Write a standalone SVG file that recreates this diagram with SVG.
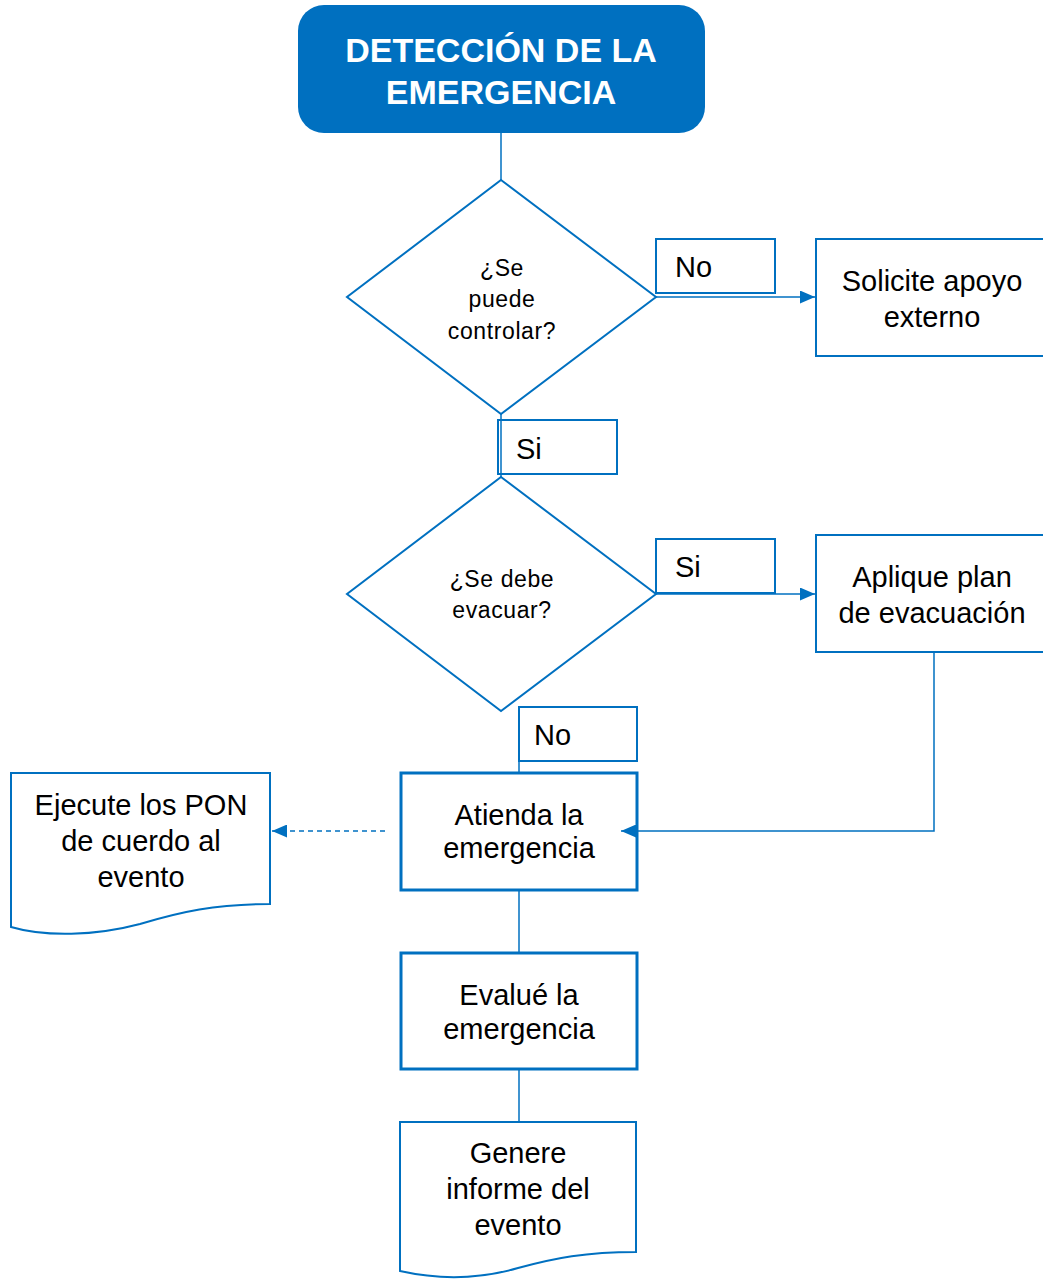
<svg xmlns="http://www.w3.org/2000/svg" width="1043" height="1279" viewBox="0 0 1043 1279">
<defs>
<style>
.box{fill:#fff;stroke:#0070C0;stroke-width:2}
.thick{fill:#fff;stroke:#0070C0;stroke-width:3}
.t{font-family:"Liberation Sans",Arial,sans-serif;font-size:29px;fill:#000;text-anchor:middle}
.tl{font-family:"Liberation Sans",Arial,sans-serif;font-size:29px;fill:#000}
.d{font-family:"Liberation Sans",Arial,sans-serif;font-size:23px;fill:#000;text-anchor:middle;letter-spacing:0.6px}
.h{font-family:"Liberation Sans",Arial,sans-serif;font-size:34px;font-weight:bold;fill:#fff;text-anchor:middle}
.c{fill:none;stroke:#0070C0;stroke-width:1.5}
</style>
<marker id="ah" viewBox="0 0 15 13" refX="15" refY="6.5" markerWidth="15" markerHeight="13" markerUnits="userSpaceOnUse" orient="auto">
<path d="M0,0 L15,6.5 L0,13 Z" fill="#0070C0"/>
</marker>
</defs>
<g id="start">
<rect x="298" y="5" width="407" height="128" rx="26" fill="#0070C0"/>
<text class="h" x="501" y="62">DETECCIÓN DE LA</text>
<text class="h" x="501" y="104">EMERGENCIA</text>
</g>
<g id="dec1">
<polygon class="box" points="501,180 656,297 501,414 347,297"/>
<text class="d" x="502" y="276">¿Se</text>
<text class="d" x="502" y="307">puede</text>
<text class="d" x="502" y="339">controlar?</text>
</g>
<g id="lbl-no1">
<rect class="box" x="656" y="239" width="119" height="54"/>
<text class="tl" x="675" y="277">No</text>
</g>
<g id="solicite">
<rect class="box" x="816" y="239" width="240" height="117"/>
<text class="t" x="932" y="291">Solicite apoyo</text>
<text class="t" x="932" y="327">externo</text>
</g>
<g id="lbl-si1">
<rect class="box" x="498" y="420" width="119" height="54"/>
<text class="tl" x="516" y="459">Si</text>
</g>
<g id="dec2">
<polygon class="box" points="501,477 656,594 501,711 347,594"/>
<text class="d" x="502" y="587">¿Se debe</text>
<text class="d" x="502" y="618">evacuar?</text>
</g>
<g id="lbl-si2">
<rect class="box" x="656" y="539" width="119" height="54"/>
<text class="tl" x="675" y="577">Si</text>
</g>
<g id="aplique">
<rect class="box" x="816" y="535" width="240" height="117"/>
<text class="t" x="932" y="587">Aplique plan</text>
<text class="t" x="932" y="623">de evacuación</text>
</g>
<g id="lbl-no2">
<rect class="box" x="519" y="707" width="118" height="54"/>
<text class="tl" x="534" y="745">No</text>
</g>
<g id="atienda">
<rect class="thick" x="401" y="773" width="236" height="117"/>
<text class="t" x="519" y="825">Atienda la</text>
<text class="t" x="519" y="858">emergencia</text>
</g>
<g id="ejecute">
<path class="box" d="M11,773 H270 V904 C215,904 180,912 140,924 C95,936 45,937 11,927 Z"/>
<text class="t" x="141" y="815">Ejecute los PON</text>
<text class="t" x="141" y="851">de cuerdo al</text>
<text class="t" x="141" y="887">evento</text>
</g>
<g id="evalue">
<rect class="thick" x="401" y="953" width="236" height="116"/>
<text class="t" x="519" y="1005">Evalué la</text>
<text class="t" x="519" y="1039">emergencia</text>
</g>
<g id="genere">
<path class="box" d="M400,1122 H636 V1252 C585,1252 555,1258 518,1268 C480,1279 440,1280 400,1271 Z"/>
<text class="t" x="518" y="1163">Genere</text>
<text class="t" x="518" y="1199">informe del</text>
<text class="t" x="518" y="1235">evento</text>
</g>
<g id="connectors">
<line class="c" x1="501" y1="133" x2="501" y2="180"/>
<line class="c" x1="656" y1="297" x2="815" y2="297" marker-end="url(#ah)"/>
<line class="c" x1="501" y1="414" x2="501" y2="477"/>
<line class="c" x1="656" y1="594" x2="815" y2="594" marker-end="url(#ah)"/>
<line class="c" x1="519" y1="761" x2="519" y2="773"/>
<polyline class="c" points="934,652 934,831 621,831" marker-end="url(#ah)"/>
<line class="c" x1="385" y1="831" x2="272" y2="831" stroke-dasharray="5,4" marker-end="url(#ah)"/>
<line class="c" x1="519" y1="890" x2="519" y2="953"/>
<line class="c" x1="519" y1="1069" x2="519" y2="1122"/>
</g>
</svg>
